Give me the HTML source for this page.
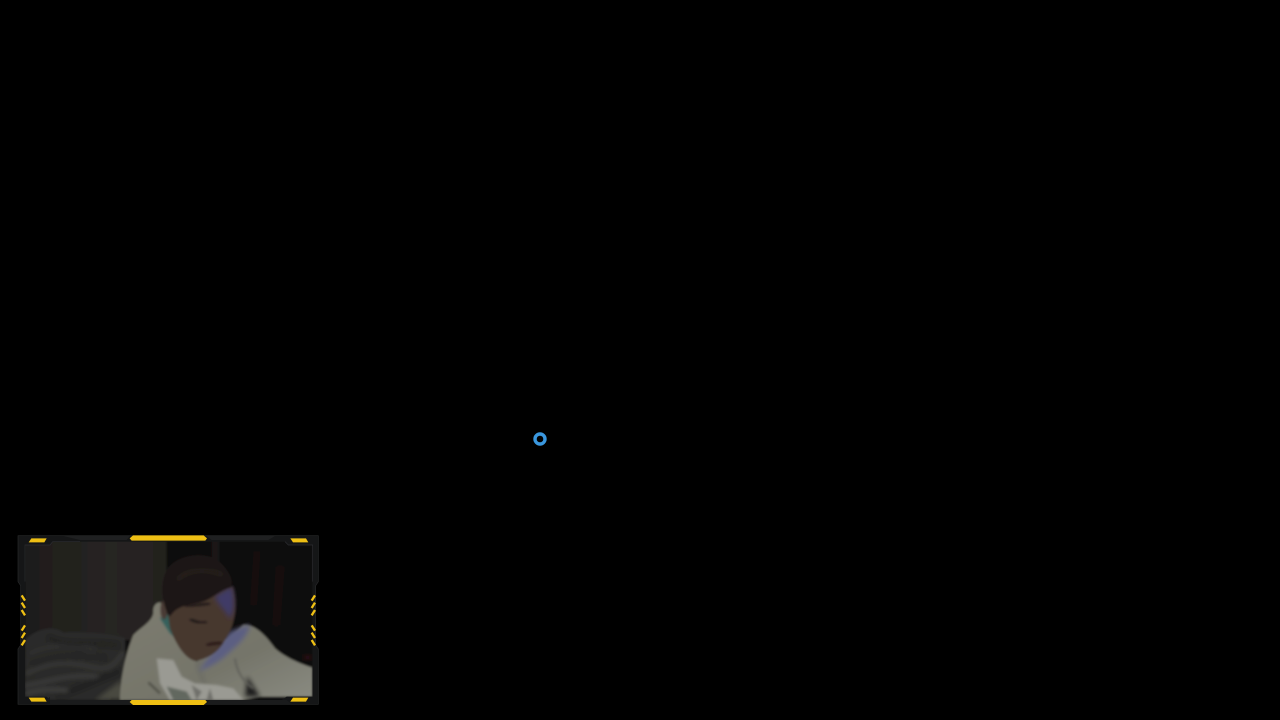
<!DOCTYPE html>
<html><head><meta charset="utf-8"><style>
html,body{margin:0;padding:0;background:#000;width:1280px;height:720px;overflow:hidden}
svg{display:block}
</style></head><body>
<svg width="1280" height="720" viewBox="0 0 1280 720" xmlns="http://www.w3.org/2000/svg">
<defs>
<filter id="soft" x="-5%" y="-5%" width="110%" height="110%"><feGaussianBlur stdDeviation="3.5"/></filter>
<filter id="b1" x="-10%" y="-10%" width="120%" height="120%"><feGaussianBlur stdDeviation="2.5"/></filter>
<filter id="b3" x="-20%" y="-20%" width="140%" height="140%"><feGaussianBlur stdDeviation="6"/></filter>
<linearGradient id="wall" x1="0" y1="0" x2="1" y2="0"><stop offset="0" stop-color="#1e1d1b"/><stop offset=".6" stop-color="#272522"/><stop offset="1" stop-color="#24221f"/></linearGradient>
<linearGradient id="hood" x1="0" y1="0" x2="1" y2="1"><stop offset="0" stop-color="#7d7c70"/><stop offset=".6" stop-color="#75756a"/><stop offset="1" stop-color="#8a8b81"/></linearGradient>
<clipPath id="vid"><path d="M45 60H120L128 50H825L835 60H908V515H830L815 525H120L110 515H45Z"/></clipPath>
</defs>
<rect width="1280" height="720" fill="#000"/>
<circle cx="540" cy="439" r="5" fill="none" stroke="#3a97de" stroke-width="3.4"/>
<g transform="translate(10,525) scale(.33333)">
<!-- frame -->
<path d="M24 32H925V170L917 182V360L925 372V538H24V372L32 360V182L24 170Z" fill="#151617" stroke="#28292a" stroke-width="2"/>
<g clip-path="url(#vid)">
<g filter="url(#soft)">
<rect x="40" y="45" width="870" height="485" fill="#100e0d"/>
<rect x="45" y="45" width="425" height="300" fill="url(#wall)"/>
<rect x="470" y="45" width="140" height="100" fill="#0b0a09"/>
<rect x="606" y="45" width="18" height="70" fill="#221f1b" filter="url(#b3)"/>
<rect x="690" y="45" width="220" height="400" fill="#0e0c0b"/>
<path d="M737 80L745 80L735 240L726 240Z" fill="#1f1d1a" filter="url(#b3)"/>
<path d="M803 125L818 125L805 300L793 300Z" fill="#1b1815" filter="url(#b3)"/>
<ellipse cx="893" cy="397" rx="12" ry="7" fill="#34101a" filter="url(#b3)"/>
<!-- blanket -->
<path d="M45 345C80 310 130 300 160 322C220 320 290 322 345 338V450L325 480L300 525H45Z" fill="#2a2a29"/>
<g fill="none" stroke-linecap="round" filter="url(#b3)">
<path d="M60 385C110 360 190 355 250 370" stroke="#333332" stroke-width="10"/>
<path d="M50 445C110 415 160 405 240 425S320 395 340 385" stroke="#3b3b39" stroke-width="10"/>
<path d="M45 482C110 472 170 445 260 455" stroke="#3e3e3c" stroke-width="11"/>
<path d="M120 340C160 365 240 350 320 360" stroke="#1e1e1d" stroke-width="10"/>
<path d="M70 420C130 395 200 395 280 398" stroke="#202020" stroke-width="9"/>
<path d="M150 510C210 490 250 470 325 440" stroke="#1f1f1e" stroke-width="12"/>
<path d="M50 505C100 492 130 492 170 497" stroke="#484846" stroke-width="9"/>
</g>
<path d="M255 525L335 465L350 525Z" fill="#4a483f" filter="url(#b3)"/>
<!-- hoodie -->
<path d="M330 525C330 470 345 390 370 330C395 305 425 290 430 265C428 245 436 232 452 232L490 330L560 410L640 350L700 300C735 296 770 335 795 370C835 405 890 422 907 428V515H750L700 525Z" fill="url(#hood)"/>
<!-- hood lining -->
<path d="M450 280L475 265L510 350L480 325Z" fill="#35605c" filter="url(#b1)"/>
<!-- torso shading -->
<path d="M712 455L750 515H705Z" fill="#1e1c1a" filter="url(#b3)"/>
<path d="M675 400C680 440 700 470 730 490" stroke="#60605a" stroke-width="6" fill="none" filter="url(#b1)"/>
<path d="M585 410L560 415L600 520" stroke="#66665e" stroke-width="6" fill="none" filter="url(#b3)"/>
<!-- chest graphic -->
<path d="M440 400L490 405L515 455L555 475L620 480L670 490L700 525H480L450 475Z" fill="#9a9a93" filter="url(#b1)"/>
<path d="M470 485L530 500L545 525H490Z" fill="#62675f" filter="url(#b1)"/>
<path d="M415 472L450 505" stroke="#4e4e45" stroke-width="7" filter="url(#b1)"/>
<path d="M545 480L575 500L560 525ZM600 490L610 525L590 525Z" fill="#70706a" filter="url(#b1)"/>
<!-- blue hoodie side -->
<path d="M660 320L720 298C715 330 690 355 655 385C630 410 600 425 565 440L590 405Z" fill="#5c5f82" filter="url(#b3)"/>
<!-- face -->
<path d="M470 240C500 215 570 215 610 205L668 185C684 240 676 300 645 345C625 385 590 402 555 408C520 398 495 350 480 310Z" fill="#47372f"/>
<path d="M615 215L665 185C674 220 674 255 660 280C640 250 622 235 615 215Z" fill="#3f3b66" filter="url(#b3)"/>
<path d="M590 362C610 352 625 357 635 352" stroke="#271917" stroke-width="9" fill="none" filter="url(#b1)"/>
<path d="M540 282C560 292 575 297 590 292" stroke="#1e1513" stroke-width="8" fill="none" filter="url(#b1)"/>
<path d="M525 245L600 235" stroke="#1e1513" stroke-width="8" fill="none" filter="url(#b1)"/>
<ellipse cx="462" cy="255" rx="11" ry="28" fill="#4a3a34" filter="url(#b1)"/>
<!-- hair -->
<path d="M472 265C452 215 452 165 475 128C510 85 595 78 630 112C660 140 672 170 662 188C630 195 600 228 570 232C540 240 500 240 480 275Z" fill="#1b1615"/>
<path d="M500 165C540 130 590 130 640 150" stroke="#26201d" stroke-width="14" fill="none" filter="url(#b3)"/>
</g>
</g>
<!-- frame inner edge lines -->
<path d="M45 170V60H120L128 50H210M825 50L835 60H908V170" fill="none" stroke="#2c2d31" stroke-width="2"/>
<path d="M160 33H360L350 45H210Z M590 33H795L775 45H605Z" fill="#1f2021"/>
<path d="M120 515L110 525H360L370 537H120Z M590 537L600 525H830L845 537Z" fill="#1a1b1c"/>
<!-- yellow -->
<g fill="#eebf14">
<path d="M369 31H581L591 40L586 47H365L359 40Z"/>
<path d="M365 525H586L591 531L581 540H369L359 531Z"/>
<path d="M64 40H110L103 52H56Z"/>
<path d="M841 40H888L895 52H849Z"/>
<path d="M56 518H103L110 530H64Z"/>
<path d="M849 518H895L888 530H841Z"/>
</g>
<g fill="none" stroke="#eebf14" stroke-width="7" stroke-linecap="butt">
<path d="M35 211L45 227M35 233L45 249M35 255L45 271M45 301L35 317M45 323L35 339M45 345L35 361"/>
<path d="M915 211L905 227M915 233L905 249M915 255L905 271M905 301L915 317M905 323L915 339M905 345L915 361"/>
</g>
</g>
</svg>
</body></html>
